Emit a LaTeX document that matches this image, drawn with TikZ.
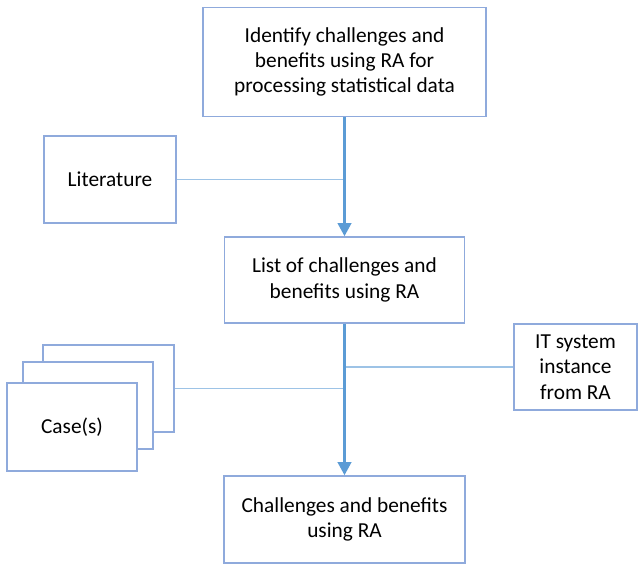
\documentclass[tikz,border=0pt]{standalone}
\usepackage{fontspec}
\setmainfont{Carlito}
\usetikzlibrary{arrows.meta}
\definecolor{boxblue}{HTML}{8FAADC}
\definecolor{arrowblue}{HTML}{5B9BD5}
\definecolor{lineblue}{HTML}{9DC3E6}
\begin{document}
\begin{tikzpicture}[x=0.75pt,y=-0.75pt,
  box/.style={draw=boxblue,line width=1pt,fill=white,align=center,inner sep=0pt,
    font=\fontsize{16}{19}\selectfont},
  flow/.style={draw=arrowblue,line width=2.4pt,-{Triangle[length=10pt,width=10pt]}},
  feed/.style={draw=lineblue,line width=0.9pt}]
\useasboundingbox (0,0) rectangle (638,564);
\node[box,minimum width=212.25pt,minimum height=81.75pt] (top) at (344.5,62) {Identify challenges and\\benefits using RA for\\processing statistical data};
\node[box,minimum width=99pt,minimum height=65.25pt] (lit) at (110,179.5) {Literature};
\node[box,minimum width=180pt,minimum height=64.5pt] (list) at (344.5,280) {List of challenges and\\benefits using RA};
\node[box,minimum width=98.25pt,minimum height=65.25pt] (case3) at (108.5,388.5) {};
\node[box,minimum width=97.5pt,minimum height=65.25pt] (case2) at (88,405.5) {};
\node[box,minimum width=97.5pt,minimum height=66pt] (case1) at (72,427) {Case(s)};
\node[box,minimum width=92.25pt,minimum height=64.5pt] (it) at (575.5,367) {IT system\\instance\\from RA};
\node[box,minimum width=180.75pt,minimum height=65.25pt] (res) at (344.5,519.5) {Challenges and benefits\\using RA};
\coordinate (j1) at (lit.east -| top.south);
\coordinate (j2) at (case3.east -| list.south);
\coordinate (j3) at (it.west -| list.south);
\draw[feed] (lit.east) -- (j1);
\draw[feed] (case3.east) -- (j2);
\draw[feed] (it.west) -- (j3);
\draw[flow] (top.south) -- (list.north);
\draw[flow] (list.south) -- (res.north);
\end{tikzpicture}
\end{document}
